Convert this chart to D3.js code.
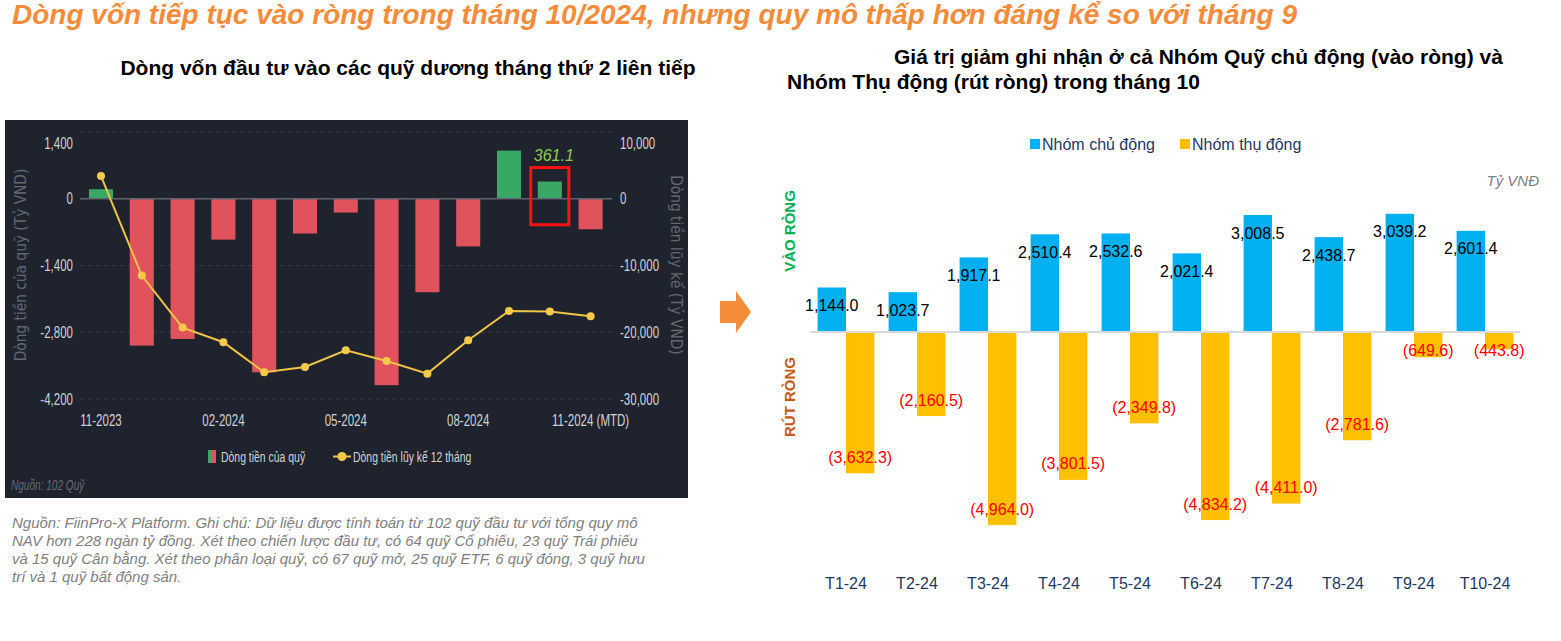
<!DOCTYPE html>
<html>
<head>
<meta charset="utf-8">
<script src="https://cdn.jsdelivr.net/npm/d3@7"></script>
<style>
	body { margin: 0; background: #fff; }
	svg text { font-family: "Liberation Sans", Arial, sans-serif; }
	svg text.nar { font-family: "DejaVu Sans Condensed", "Liberation Sans", sans-serif; }
</style>
</head>
<body>
<div id="place"></div>
<script>
// ---- left chart data (Tỷ VND) ----
const fundMonths = ["11-2023","12-2023","01-2024","02-2024","03-2024","04-2024","05-2024",
	"06-2024","07-2024","08-2024","09-2024","10-2024","11-2024"];
const fundFlow = [200, -3080, -2940, -857, -3640, -730, -290, -3910, -1960, -1000, 1010, 361.1, -640];
const cumFlow = [3400, -11500, -19300, -21500, -26000, -25200, -22700, -24300, -26200, -21200, -16800, -16900, -17600];
const leftTicks = [1400, 0, -1400, -2800, -4200];
const rightTicks = [10000, 0, -10000, -20000, -30000];
const shownMonths = ["11-2023","02-2024","05-2024","08-2024","11-2024"];
const shownLabels = ["11-2023","02-2024","05-2024","08-2024","11-2024 (MTD)"];

// ---- right chart data (Tỷ VNĐ) ----
const groupMonths = ["T1-24","T2-24","T3-24","T4-24","T5-24","T6-24","T7-24","T8-24","T9-24","T10-24"];
const activeFlow = [1144.0, 1023.7, 1917.1, 2510.4, 2532.6, 2021.4, 3008.5, 2438.7, 3039.2, 2601.4];
const passiveFlow = [-3632.3, -2160.5, -4964.0, -3801.5, -2349.8, -4834.2, -4411.0, -2781.6, -649.6, -443.8];
const seriesNames = ["Nhóm chủ động", "Nhóm thụ động"];

const footLines = [
	"Nguồn: FiinPro-X Platform. Ghi chú: Dữ liệu được tính toán từ 102 quỹ đầu tư với tổng quy mô",
	"NAV hơn 228 ngàn tỷ đồng. Xét theo chiến lược đầu tư, có 64 quỹ Cổ phiếu, 23 quỹ Trái phiếu",
	"và 15 quỹ Cân bằng. Xét theo phân loại quỹ, có 67 quỹ mở, 25 quỹ ETF, 6 quỹ đóng, 3 quỹ hưu",
	"trí và 1 quỹ bất động sản."
];

const svg = d3.select("#place").append("svg")
	.attr("width", 1561)
	.attr("height", 641);

// main title
svg.append("text")
	.attr("x", 12).attr("y", 24)
	.style("font-size", "28px").style("font-weight", "bold").style("font-style", "italic")
	.attr("fill", "#f68b3a")
	.text("Dòng vốn tiếp tục vào ròng trong tháng 10/2024, nhưng quy mô thấp hơn đáng kể so với tháng 9");

// ================= LEFT CHART =================
svg.append("text")
	.attr("x", 408).attr("y", 75).attr("text-anchor", "middle")
	.style("font-size", "21px").style("font-weight", "bold")
	.attr("fill", "#000")
	.text("Dòng vốn đầu tư vào các quỹ dương tháng thứ 2 liên tiếp");

svg.append("rect")
	.attr("x", 5).attr("y", 120).attr("width", 683).attr("height", 378)
	.attr("fill", "#1f232e");

const xL = d3.scaleBand().domain(fundMonths).range([80.6, 611]).paddingInner(0.41).paddingOuter(0.205);
const yL = d3.scaleLinear().domain([-4200, 1400]).range([399, 132]);
const yR = d3.scaleLinear().domain([-30000, 10000]).range([399, 132]);
const tickFmt = d => (d < 0 ? "-" : "") + d3.format(",")(Math.abs(d));
const squeeze = "scale(0.72,1)";   // condensed look for the dark panel labels

const left = svg.append("g");

// grid
left.selectAll("line.grid")
	.data(leftTicks.filter(d => d !== 0))
  .enter().append("line")
	.attr("x1", 80).attr("x2", 612)
	.attr("y1", d => yL(d)).attr("y2", d => yL(d))
	.attr("stroke", "#3a3f4b")
	.attr("stroke-dasharray", "4,4");

// bars
left.selectAll("rect.bar")
	.data(fundFlow)
  .enter().append("rect")
	.attr("x", (d, i) => xL(fundMonths[i]))
	.attr("width", xL.bandwidth())
	.attr("y", d => yL(Math.max(0, d)))
	.attr("height", d => Math.abs(yL(d) - yL(0)))
	.attr("fill", d => d >= 0 ? "#3aa865" : "#e0525c");

left.append("line")
	.attr("x1", 80).attr("x2", 612)
	.attr("y1", yL(0)).attr("y2", yL(0))
	.attr("stroke", "#5e636d").attr("stroke-width", 1.5);

// cumulative line
const cx = i => xL(fundMonths[i]) + xL.bandwidth() / 2;
left.append("path")
	.datum(cumFlow)
	.attr("d", d3.line().x((d, i) => cx(i)).y(d => yR(d)))
	.attr("fill", "none")
	.attr("stroke", "#f0c445")
	.attr("stroke-width", 2);

left.selectAll("circle.pt")
	.data(cumFlow)
  .enter().append("circle")
	.attr("cx", (d, i) => cx(i))
	.attr("cy", d => yR(d))
	.attr("r", 4)
	.attr("fill", "#f5c94a");

// axes
const axL = left.append("g")
	.attr("transform", "translate(73,0)")
	.call(d3.axisLeft(yL).tickValues(leftTicks).tickSize(0).tickPadding(0).tickFormat(tickFmt));
const axR = left.append("g")
	.attr("transform", "translate(620,0)")
	.call(d3.axisRight(yR).tickValues(rightTicks).tickSize(0).tickPadding(0).tickFormat(tickFmt));
const axX = left.append("g")
	.attr("transform", "translate(0,415)")
	.call(d3.axisBottom(xL).tickValues(shownMonths).tickSize(0).tickPadding(0)
		.tickFormat(d => shownLabels[shownMonths.indexOf(d)]));

[axL, axR, axX].forEach(a => {
	a.select(".domain").remove();
	a.selectAll("text")
		.attr("fill", "#cfd1d5")
		.attr("transform", squeeze)
		.style("font-size", "16px");
});
// top labels sit under their grid line
axL.selectAll("text").filter(d => d === 1400).attr("dy", "1.05em");
axR.selectAll("text").filter(d => d === 10000).attr("dy", "1.05em");

left.append("text")
	.attr("class", "nar")
	.attr("transform", "translate(26,265) rotate(-90)")
	.attr("text-anchor", "middle")
	.attr("fill", "#636873")
	.style("font-size", "15.3px")
	.text("Dòng tiền của quỹ (Tỷ VND)");

left.append("text")
	.attr("class", "nar")
	.attr("transform", "translate(671,265) rotate(90)")
	.attr("text-anchor", "middle")
	.attr("fill", "#636873")
	.style("font-size", "15.3px")
	.text("Dòng tiền lũy kế (Tỷ VND)");

// highlight box on last full month
const hiMonth = fundMonths[11];
left.append("rect")
	.attr("x", xL(hiMonth) - 7)
	.attr("y", yL(fundFlow[11]) - 14)
	.attr("width", xL.bandwidth() + 14)
	.attr("height", yL(0) - yL(fundFlow[11]) + 40)
	.attr("fill", "none")
	.attr("stroke", "#ff1010")
	.attr("stroke-width", 3);

left.append("text")
	.attr("x", xL(hiMonth) + xL.bandwidth() / 2 + 4)
	.attr("y", yL(fundFlow[11]) - 21)
	.attr("text-anchor", "middle")
	.style("font-size", "16px").style("font-style", "italic")
	.attr("fill", "#8fcf4c")
	.text(d3.format(".1f")(fundFlow[11]));

// legend
left.append("rect").attr("x", 208).attr("y", 450).attr("width", 4).attr("height", 13).attr("fill", "#3aa865");
left.append("rect").attr("x", 212).attr("y", 450).attr("width", 4).attr("height", 13).attr("fill", "#e0525c");
left.append("text")
	.attr("transform", "translate(221,461.5) " + squeeze)
	.attr("fill", "#d2d4d8").style("font-size", "14.5px")
	.text("Dòng tiền của quỹ");
left.append("line").attr("x1", 333).attr("x2", 351).attr("y1", 456.5).attr("y2", 456.5)
	.attr("stroke", "#f0c445").attr("stroke-width", 2);
left.append("circle").attr("cx", 342).attr("cy", 456.5).attr("r", 4.5).attr("fill", "#f5c94a");
left.append("text")
	.attr("transform", "translate(353,461.5) " + squeeze)
	.attr("fill", "#d2d4d8").style("font-size", "14.5px")
	.text("Dòng tiền lũy kế 12 tháng");

left.append("text")
	.attr("transform", "translate(11,490) " + squeeze)
	.attr("fill", "#666b75").style("font-size", "14px").style("font-style", "italic")
	.text("Nguồn: 102 Quỹ");

// footnote
svg.append("g").selectAll("text")
	.data(footLines)
  .enter().append("text")
	.attr("x", 12)
	.attr("y", (d, i) => 528 + i * 18)
	.style("font-size", "15px").style("font-style", "italic")
	.attr("fill", "#7f7f7f")
	.text(d => d);

// arrow between the charts
svg.append("path")
	.attr("d", "M720,301 L736,301 L736,291 L751,312 L736,333 L736,323 L720,323 Z")
	.attr("fill", "#f58c38");

// ================= RIGHT CHART =================
svg.append("text")
	.attr("x", 894).attr("y", 64)
	.style("font-size", "21px").style("font-weight", "bold")
	.text("Giá trị giảm ghi nhận ở cả Nhóm Quỹ chủ động (vào ròng) và");
svg.append("text")
	.attr("x", 787).attr("y", 89)
	.style("font-size", "21px").style("font-weight", "bold")
	.text("Nhóm Thụ động (rút ròng) trong tháng 10");

const colors = ["#00b0f0", "#ffc000"];
const legend = svg.append("g").selectAll("g")
	.data(seriesNames)
  .enter().append("g")
	.attr("transform", (d, i) => "translate(" + (1030 + i * 150) + ",0)");
legend.append("rect")
	.attr("x", 0).attr("y", 139).attr("width", 10).attr("height", 10)
	.attr("fill", (d, i) => colors[i]);
legend.append("text")
	.attr("x", 12).attr("y", 150)
	.style("font-size", "16px")
	.attr("fill", "#1f3864")
	.text(d => d);

svg.append("text")
	.attr("x", 1539).attr("y", 186).attr("text-anchor", "end")
	.style("font-size", "15px").style("font-style", "italic")
	.attr("fill", "#7f7f7f")
	.text("Tỷ VNĐ");

svg.append("text")
	.attr("transform", "translate(795,231) rotate(-90)")
	.attr("text-anchor", "middle")
	.style("font-size", "15px").style("font-weight", "bold")
	.attr("fill", "#00b050")
	.text("VÀO RÒNG");
svg.append("text")
	.attr("transform", "translate(795,397) rotate(-90)")
	.attr("text-anchor", "middle")
	.style("font-size", "15px").style("font-weight", "bold")
	.attr("fill", "#c55a11")
	.text("RÚT RÒNG");

const x0 = d3.scaleBand().domain(groupMonths).range([810.5, 1520.5]).paddingInner(0.2).paddingOuter(0.1);
const x1 = d3.scaleBand().domain([0, 1]).range([0, x0.bandwidth()]);
const y2 = d3.scaleLinear().domain([-5000, 3500]).range([332 + 5000 * 0.0389, 332 - 3500 * 0.0389]);
const fmtV = d => d < 0 ? "(" + d3.format(",.1f")(-d) + ")" : d3.format(",.1f")(d);

const groups = svg.append("g").selectAll("g")
	.data(groupMonths)
  .enter().append("g")
	.attr("transform", d => "translate(" + x0(d) + ",0)");

groups.selectAll("rect")
	.data((d, i) => [activeFlow[i], passiveFlow[i]])
  .enter().append("rect")
	.attr("x", (d, j) => x1(j))
	.attr("width", x1.bandwidth())
	.attr("y", d => y2(Math.max(0, d)))
	.attr("height", d => Math.abs(y2(d) - y2(0)))
	.attr("fill", (d, j) => colors[j]);

svg.append("line")
	.attr("x1", 810).attr("x2", 1520)
	.attr("y1", y2(0)).attr("y2", y2(0))
	.attr("stroke", "#d9d9d9").attr("stroke-width", 2);

groups.selectAll("text.val")
	.data((d, i) => [activeFlow[i], passiveFlow[i]])
  .enter().append("text")
	.attr("x", (d, j) => x1(j) + x1.bandwidth() / 2)
	.attr("y", d => d >= 0 ? y2(d) + 18 : Math.max(y2(d) - 16, y2(0) + 18))
	.attr("dy", "0.35em")
	.attr("text-anchor", "middle")
	.style("font-size", "16px")
	.attr("fill", d => d >= 0 ? "#000" : "#ff0000")
	.text(fmtV);

const axG = svg.append("g")
	.attr("transform", "translate(0,578)")
	.call(d3.axisBottom(x0).tickSize(0).tickPadding(0));
axG.select(".domain").remove();
axG.selectAll("text")
	.style("font-size", "16px")
	.attr("fill", "#1f3864");
</script>
</body>
</html>
